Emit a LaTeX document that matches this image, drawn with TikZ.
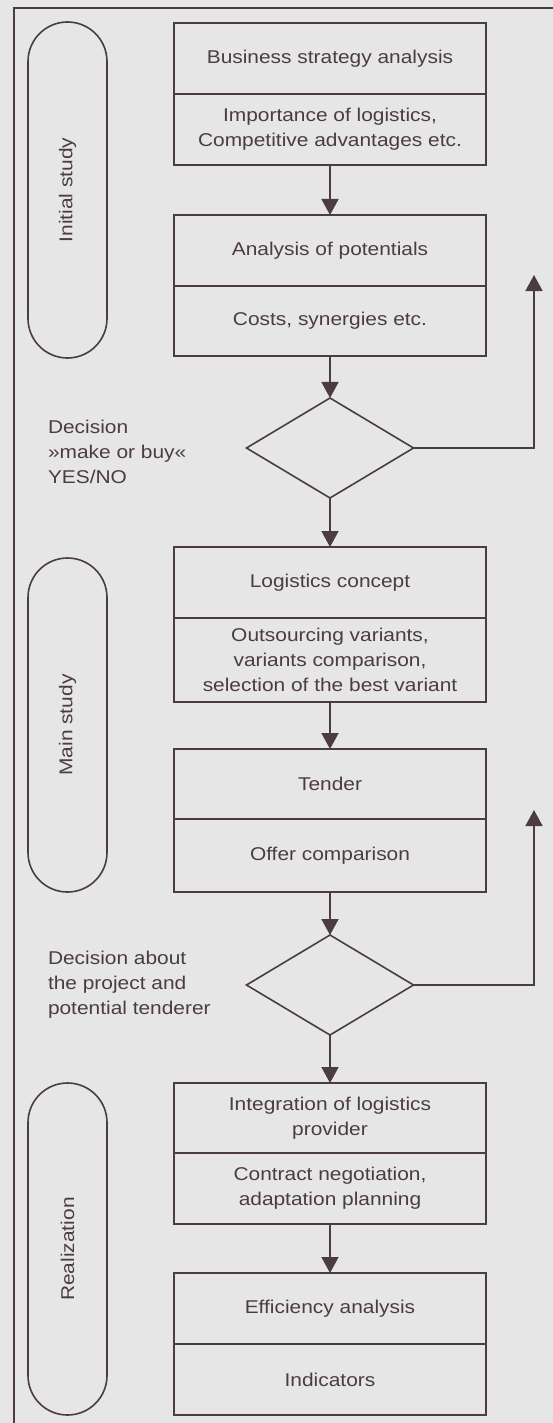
\documentclass[tikz,border=0pt]{standalone}
\usepackage{fontspec}
\setmainfont{Liberation Sans}[FakeStretch=1.13]
\usetikzlibrary{arrows.meta,shapes,positioning}
\definecolor{ink}{RGB}{74,60,66}
\definecolor{paper}{RGB}{231,230,230}
\tikzset{
  basic/.style   = {draw=ink, line width=1.6pt, text=ink, inner sep=0pt, outer sep=0pt,
                    font=\fontsize{18.5}{25}\selectfont},
  part/.style    = {basic, rectangle, align=center, minimum width=312pt, minimum height=71pt},
  decision/.style = {basic, diamond, minimum width=167pt, minimum height=100pt},
  phase/.style   = {basic, rectangle, rounded corners=39.5pt, minimum height=79pt, rotate=90},
  remark/.style  = {basic, draw=none, align=left, anchor=west},
  flow/.style    = {draw=ink, line width=1.6pt, -{Triangle[length=16pt,width=17pt]}}
}

\begin{document}
\begin{tikzpicture}[x=1pt,y=-1pt]
\fill[paper] (0,0) rectangle (553,1423);
\useasboundingbox (0,0) rectangle (553,1423);
\draw[ink, line width=1.6pt] (553,8) -- (14,8) -- (14,1423);

\node[phase, minimum width=336pt] (initial) at (67.5,190) {Initial study};
\node[phase, minimum width=334pt] (main) at (67.5,725) {Main study};
\node[phase, minimum width=332pt] (real) at (67.5,1249) {Realization};

\node[part, anchor=north] (s1a) at (330,23) {Business strategy analysis};
\node[part, below=0pt of s1a] (s1b) {Importance of logistics,\\Competitive advantages etc.};
\node[part, anchor=north] (s2a) at (330,215) {Analysis of potentials};
\node[part, below=0pt of s2a, minimum height=70pt] (s2b) {Costs, synergies etc.};
\node[decision] (d1) at (330,448) {};
\node[part, anchor=north] (s3a) at (330,547) {Logistics concept};
\node[part, below=0pt of s3a, minimum height=84pt] (s3b) {Outsourcing variants,\\variants comparison,\\selection of the best variant};
\node[part, anchor=north, minimum height=70pt] (s4a) at (330,749) {Tender};
\node[part, below=0pt of s4a, minimum height=73pt] (s4b) {Offer comparison};
\node[decision] (d2) at (330,985) {};
\node[part, anchor=north, minimum height=70pt] (s5a) at (330,1083) {Integration of logistics\\provider};
\node[part, below=0pt of s5a] (s5b) {Contract negotiation,\\adaptation planning};
\node[part, anchor=north] (s6a) at (330,1273) {Efficiency analysis};
\node[part, below=0pt of s6a] (s6b) {Indicators};

\node[remark] (r1) at (48,452) {Decision\\»make or buy«\\YES/NO};
\node[remark] (r2) at (48,985) {Decision about\\the project and\\potential tenderer};

\coordinate (back1) at (534,275);
\coordinate (back2) at (534,810);

\draw[flow] (s1b) -- (s2a);
\draw[flow] (s2b) -- (d1);
\draw[flow] (d1) -- (s3a);
\draw[flow] (d1.east) -| (back1);
\draw[flow] (s3b) -- (s4a);
\draw[flow] (s4b) -- (d2);
\draw[flow] (d2) -- (s5a);
\draw[flow] (d2.east) -| (back2);
\draw[flow] (s5b) -- (s6a);
\end{tikzpicture}
\end{document}
